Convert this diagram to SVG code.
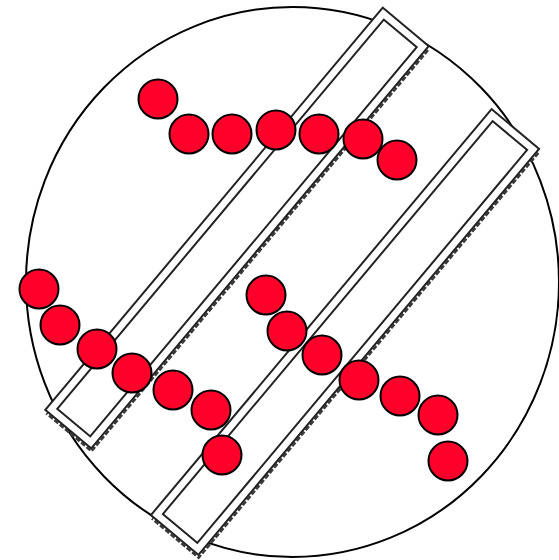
<svg xmlns="http://www.w3.org/2000/svg" width="559" height="560" viewBox="0 0 559 560">
  <style>
    .ring { fill: #ffffff; stroke: #000000; stroke-width: 2; }
    .outer { fill: #ffffff; stroke: #222222; stroke-width: 2; }
    .inner { fill: #ffffff; stroke: #222222; stroke-width: 2; }
    .shade { fill: none; stroke: #3a3a3a; stroke-width: 2.5; stroke-dasharray: 5 2; }
    .bead { fill: #ff002b; stroke: #000000; stroke-width: 2; }
  </style>
  <rect width="559" height="560" fill="#ffffff"/>
  <g id="dish">
    <ellipse class="ring" cx="292.5" cy="282" rx="266.5" ry="275"/>
  </g>
  <g id="bar-1" transform="translate(237,228) rotate(40)">
    <path class="shade" d="M32,-259 L32,264.5 L-27,264.5"/>
    <rect class="outer" x="-30" y="-262.5" width="60" height="525"/>
    <rect class="inner" x="-21.5" y="-254" width="43" height="508"/>
  </g>
  <g id="bar-2" transform="translate(345,332) rotate(40)">
    <path class="shade" d="M33,-261.5 L33,267 L-28,267"/>
    <rect class="outer" x="-31" y="-265" width="62" height="530"/>
    <rect class="inner" x="-22.5" y="-256.5" width="45" height="513"/>
  </g>
  <g id="chain-top">
    <circle class="bead" cx="158" cy="99" r="19.5"/>
    <circle class="bead" cx="189" cy="134" r="19.5"/>
    <circle class="bead" cx="232" cy="134" r="19.5"/>
    <circle class="bead" cx="276" cy="130" r="19.5"/>
    <circle class="bead" cx="319" cy="134" r="19.5"/>
    <circle class="bead" cx="363" cy="139" r="19.5"/>
    <circle class="bead" cx="397" cy="160" r="19.5"/>
  </g>
  <g id="chain-left">
    <circle class="bead" cx="39" cy="289" r="19.5"/>
    <circle class="bead" cx="60" cy="325" r="19.5"/>
    <circle class="bead" cx="97" cy="349" r="19.5"/>
    <circle class="bead" cx="132" cy="373" r="19.5"/>
    <circle class="bead" cx="173" cy="390" r="19.5"/>
    <circle class="bead" cx="211" cy="410" r="19.5"/>
    <circle class="bead" cx="222" cy="455" r="19.5"/>
  </g>
  <g id="chain-right">
    <circle class="bead" cx="266" cy="295" r="19.5"/>
    <circle class="bead" cx="287" cy="331" r="19.5"/>
    <circle class="bead" cx="322" cy="355" r="19.5"/>
    <circle class="bead" cx="359" cy="380" r="19.5"/>
    <circle class="bead" cx="400" cy="396" r="19.5"/>
    <circle class="bead" cx="438" cy="415" r="19.5"/>
    <circle class="bead" cx="448" cy="461" r="19.5"/>
  </g>
</svg>
